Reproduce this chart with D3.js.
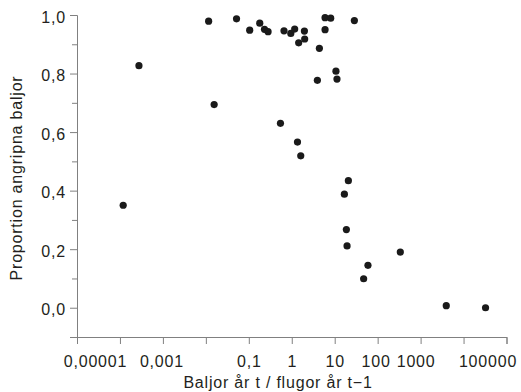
<!DOCTYPE html>
<html>
<head>
<meta charset="utf-8">
<script src="https://cdn.jsdelivr.net/npm/d3@7"></script>
<style>
  body { margin: 0; background: #fff; }
  svg text { font-family: Arial, "Liberation Sans", sans-serif; fill: #231f20; letter-spacing: 0.8px; }
</style>
</head>
<body>
<svg width="521" height="392"></svg>
<script>
// pods year t / flies year t-1 (x) and proportion attacked pods (y)
var ratio = [0.000119, 0.000277, 0.0116, 0.0156, 0.0518, 0.105, 0.18, 0.232, 0.281,
  0.546, 0.66, 0.95, 1.17, 1.36, 1.45, 1.62, 1.97, 2.0, 3.95, 4.4, 5.96, 5.96, 8.07,
  10.7, 11.3, 16.8, 18.7, 19.4, 20.8, 28.7, 47.2, 59.5, 337, 3960, 32500];
var proportion = [0.350, 0.827, 0.979, 0.694, 0.987, 0.948, 0.972, 0.951, 0.943,
  0.630, 0.946, 0.937, 0.952, 0.566, 0.905, 0.519, 0.945, 0.918, 0.777, 0.886, 0.991, 0.950, 0.989,
  0.808, 0.781, 0.388, 0.267, 0.211, 0.434, 0.981, 0.099, 0.145, 0.190, 0.007, 0.0];

var xTicks = [1e-5, 1e-4, 1e-3, 1e-2, 0.1, 1, 10, 100, 1000, 1e4, 1e5];
var xTickLabels = ["0,00001", "", "0,001", "", "0,1", "1", "10", "100", "1000", "", "100000"];
var yMajor = [0, 0.2, 0.4, 0.6, 0.8, 1.0];
var yMinor = [-0.1, 0.1, 0.3, 0.5, 0.7, 0.9];
var xTitle = "Baljor år t / flugor år t\u22121";
var yTitle = "Proportion angripna baljor";

var svg = d3.select('svg');
var axisColor = '#808080';

var xScale = d3.scaleLog()
  .domain([1e-5, 1e5])
  .range([77, 506.5]);

var yScale = d3.scaleLinear()
  .domain([-0.1, 1.0])
  .range([337, 15]);

// x axis
var xAxis = d3.axisBottom(xScale)
  .tickValues(xTicks)
  .tickSize(7)
  .tickPadding(12)
  .tickFormat((d, i) => xTickLabels[i]);

var gx = svg.append('g')
  .attr('transform', 'translate(0,337)')
  .call(xAxis);

// nudge crowded end labels like the original
var shift = {0: 18, 2: -1.5, 7: -2, 8: -5, 10: -19};
gx.selectAll('.tick text')
  .attr('dx', (d, i) => shift[i] || 0)
  .attr('font-size', 16);

// y axis, major ticks with labels then unlabelled minor ticks
var gy = svg.append('g')
  .attr('transform', 'translate(77,0)')
  .call(d3.axisLeft(yScale)
    .tickValues(yMajor)
    .tickSize(7)
    .tickPadding(4)
    .tickFormat(d => d3.format('.1f')(d).replace('.', ',')));

gy.selectAll('.tick text')
  .attr('dy', '0.45em')
  .attr('font-size', 16);

svg.append('g')
  .attr('transform', 'translate(77,0)')
  .call(d3.axisLeft(yScale)
    .tickValues(yMinor)
    .tickSize(5)
    .tickFormat(''))
  .select('.domain').remove();

svg.selectAll('.domain, .tick line')
  .attr('stroke', axisColor);
svg.selectAll('.tick text').attr('fill', '#231f20');

// points
svg.append('g')
  .selectAll('circle')
  .data(ratio)
  .enter().append('circle')
  .attr('cx', d => xScale(d))
  .attr('cy', (d, i) => yScale(proportion[i]))
  .attr('r', 3.6)
  .attr('fill', '#1a1a1a');

// titles
svg.append('text')
  .attr('x', 278)
  .attr('y', 388)
  .attr('text-anchor', 'middle')
  .attr('font-size', 16)
  .text(xTitle);

svg.append('text')
  .attr('transform', 'translate(21.5,178) rotate(-90)')
  .attr('text-anchor', 'middle')
  .attr('font-size', 16)
  .text(yTitle);
</script>
</body>
</html>
